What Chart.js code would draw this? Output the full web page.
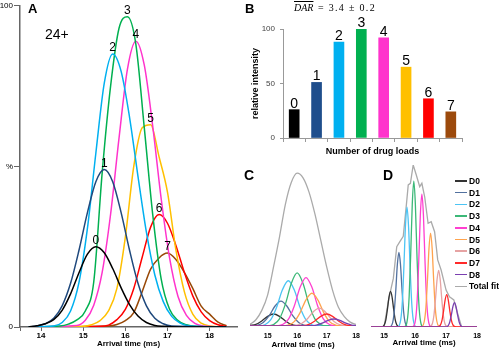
<!DOCTYPE html>
<html>
<head>
<meta charset="utf-8">
<script src="https://cdn.jsdelivr.net/npm/chart.js@4.4.1/dist/chart.umd.min.js"></script>
<style>
  body { margin: 0; background: #fff; }
  #wrap { position: relative; width: 500px; height: 350px; overflow: hidden; font-family: 'Liberation Sans', Arial, sans-serif; }
  canvas, .txt { position: absolute; }
  .txt { white-space: nowrap; color: #000; }
  .letter { font-weight: bold; }
  .lg-line { position: absolute; width: 12px; height: 1.5px; }
  .lg-text { position: absolute; font-size: 8.5px; font-weight: bold; line-height: 10px; }
</style>
</head>
<body>
<div id="wrap">
  <canvas id="chartA" width="245" height="350" style="left:0;top:0"></canvas>
  <canvas id="chartB" width="215" height="160" style="left:250px;top:0"></canvas>
  <canvas id="chartC" width="120" height="190" style="left:246px;top:160px"></canvas>
  <canvas id="chartD" width="120" height="190" style="left:366px;top:160px"></canvas>

  <div class="txt letter" style="left:28px;top:2px;font-size:13px;line-height:13px">A</div>
  <div class="txt" style="left:45px;top:27px;font-size:14px;line-height:14px">24+</div>
  <div class="txt letter" style="left:245px;top:2px;font-size:13px;line-height:13px">B</div>
  <div class="txt" style="left:294px;top:2px;font:italic 10px 'Liberation Serif';line-height:12px"><span style="text-decoration:overline">DAR</span></div>
  <div class="txt" style="left:318px;top:2px;font:10px 'Liberation Serif';line-height:12px;letter-spacing:1.3px">= 3.4 ± 0.2</div>
  <div class="txt letter" style="left:244px;top:168px;font-size:14px;line-height:14px">C</div>
  <div class="txt letter" style="left:383px;top:168px;font-size:14px;line-height:14px">D</div>
  <div id="legendD"></div>
</div>
<script>
// ---- panel A: arrival time distributions, 24+ charge state ----
const aLabels = ['0', '1', '2', '3', '4', '5', '6', '7'];
const aColors = ['#000000', '#1f497d', '#00b0f0', '#00b050', '#ff33cc', '#ffc000', '#ff0000', '#984807'];
const aTicks = [13.5, 14, 15, 16, 17, 18];

const aT0 = [13.7, 13.9, 14.1, 14.3, 14.5, 14.7, 14.9, 15.1, 15.3, 15.5, 15.7, 15.9, 16.1, 16.3, 16.5, 16.7, 16.9, 17.3, 18.4];
const aI0 = [0, 0.4, 1.0, 2.3, 5.2, 10.3, 16.9, 22.7, 25, 23.1, 18.2, 12.2, 7.0, 3.4, 1.4, 0.5, 0.2, 0, 0];
const aT1 = [13.7, 13.9, 14.1, 14.3, 14.5, 14.7, 14.9, 15.1, 15.3, 15.5, 15.7, 15.9, 16.1, 16.3, 16.5, 16.7, 16.9, 17.1, 18.4];
const aI1 = [0, 0.3, 1.0, 2.7, 6.6, 13.6, 23.9, 35.6, 45.2, 49, 45.2, 35.6, 23.9, 13.6, 6.6, 2.7, 1.0, 0.3, 0];
const aT2 = [13.7, 14.3, 14.5, 14.7, 14.9, 15.1, 15.3, 15.5, 15.7, 15.9, 16.1, 16.3, 16.5, 16.7, 16.9, 17.1, 17.3, 17.5, 18.4];
const aI2 = [0, 0.3, 1.4, 5.0, 13.9, 30.7, 54.1, 75.9, 85, 79.6, 65.3, 46.9, 29.5, 16.2, 7.9, 3.3, 1.2, 0.4, 0];
const aT3 = [13.7, 14.45, 14.65, 14.85, 15.05, 15.25, 15.45, 15.65, 15.85, 16.05, 16.25, 16.45, 16.65, 16.85, 17.05, 17.25, 17.45, 17.65, 18.4];
const aI3 = [0, 0.3, 0.9, 2.2, 5, 14, 48, 75, 93, 96.6, 88, 62, 35, 15, 5.5, 2, 0.7, 0.2, 0];
const aT4 = [13.7, 14.85, 15.05, 15.25, 15.45, 15.65, 15.85, 16.05, 16.25, 16.45, 16.65, 16.85, 17.05, 17.25, 17.45, 17.65, 17.85, 18.4];
const aI4 = [0, 0.5, 2.1, 6.8, 17.0, 35.1, 58.8, 80.3, 89, 81.5, 62.5, 40, 21.5, 9.5, 3.6, 1.1, 0.3, 0];
const aT5 = [13.7, 15.0, 15.2, 15.4, 15.6, 15.8, 16.0, 16.2, 16.4, 16.6, 16.8, 17.0, 17.2, 17.4, 17.6, 17.8, 18.0, 18.4];
const aI5 = [0, 0.2, 0.7, 2, 5, 12, 28, 50, 62, 63, 53, 42, 24, 11, 4, 1.2, 0.3, 0];
const aT6 = [13.7, 15.4, 15.6, 15.8, 16.0, 16.2, 16.4, 16.6, 16.8, 17.0, 17.2, 17.4, 17.6, 17.8, 18.0, 18.2, 18.4];
const aI6 = [0, 0.2, 0.6, 2.3, 5.5, 12, 21.7, 31.1, 35, 32.3, 25.4, 17, 9.7, 4.7, 2.0, 0.7, 0.2];
const aT7 = [13.7, 15.6, 15.8, 16.0, 16.2, 16.4, 16.6, 16.8, 17.0, 17.2, 17.4, 17.6, 17.8, 18.0, 18.2, 18.4];
const aI7 = [0, 0.3, 0.8, 2, 4.5, 11, 18, 21.5, 23, 21, 17, 12, 6.5, 4, 1.5, 0.4];

// ---- panel B: relative intensity per drug load ----
const bCats = ['0', '1', '2', '3', '4', '5', '6', '7'];
const bVals = [26, 51, 88, 100, 92, 65, 36, 24];
const bColors = ['#000000', '#1f4e8c', '#00b0f0', '#00b050', '#ff33cc', '#ffc000', '#ff0000', '#9c4a0c'];
const bTicks = [0, 50, 100];

// ---- panels C and D: fitted components ----
const dLabels = ['D0', 'D1', 'D2', 'D3', 'D4', 'D5', 'D6', 'D7', 'D8', 'Total fit'];
const dColors = ['#333333', '#52719f', '#4cc4f4', '#3cb878', '#ff3fd0', '#ffa34d', '#e6a3a3', '#ff2a2a', '#7a3fb0', '#aaaaaa'];
const cdTicks = [15, 16, 17, 18];

const cT0 = [14.4, 14.6, 14.8, 15.0, 15.2, 15.4, 15.6, 15.8, 16.0, 16.2, 18.0];
const cI0 = [0.4, 1.0, 3.2, 6.2, 7.7, 6.2, 3.2, 1.0, 0.2, 0, 0];
const cT1 = [14.4, 14.45, 14.65, 14.85, 15.05, 15.25, 15.45, 15.65, 15.85, 16.05, 16.25, 16.45, 18.0];
const cI1 = [0, 0.06, 0.46, 2.2, 6.6, 12.8, 16, 12.8, 6.6, 2.2, 0.46, 0.06, 0];
const cT2 = [14.4, 14.7, 14.9, 15.1, 15.3, 15.5, 15.7, 15.9, 16.1, 16.3, 16.5, 16.7, 18.0];
const cI2 = [0, 0.1, 0.8, 3.9, 11.9, 23.2, 29, 23.2, 11.9, 3.9, 0.8, 0.1, 0];
const cT3 = [14.4, 15.0, 15.2, 15.4, 15.6, 15.8, 16.0, 16.2, 16.4, 16.6, 16.8, 17.0, 18.0];
const cI3 = [0, 0.14, 1.0, 4.6, 14, 27.2, 34, 27.2, 14, 4.6, 1.0, 0.14, 0];
const cT4 = [14.4, 15.3, 15.5, 15.7, 15.9, 16.1, 16.3, 16.5, 16.7, 16.9, 17.1, 17.3, 18.0];
const cI4 = [0, 0.12, 0.9, 4.2, 12.7, 24.8, 31, 24.8, 12.7, 4.2, 0.9, 0.12, 0];
const cT5 = [14.4, 15.5, 15.7, 15.9, 16.1, 16.3, 16.5, 16.7, 16.9, 17.1, 17.3, 17.5, 18.0];
const cI5 = [0, 0.08, 0.6, 2.8, 8.6, 16.8, 21, 16.8, 8.6, 2.8, 0.6, 0.08, 0];
const cT6 = [14.4, 15.75, 15.95, 16.15, 16.35, 16.55, 16.75, 16.95, 17.15, 17.35, 17.55, 17.75, 18.0];
const cI6 = [0, 0.05, 0.33, 1.6, 4.7, 9.2, 11.5, 9.2, 4.7, 1.6, 0.33, 0.05, 0];
const cT7 = [14.4, 16.0, 16.2, 16.4, 16.6, 16.8, 17.0, 17.2, 17.4, 17.6, 17.8, 18.0];
const cI7 = [0, 0.03, 0.2, 1.0, 3.2, 6.2, 7.7, 6.2, 3.2, 1.0, 0.2, 0.03];
const cT8 = [14.4, 16.25, 16.45, 16.65, 16.85, 17.05, 17.25, 17.45, 17.65, 17.85, 18.0];
const cI8 = [0, 0.02, 0.13, 0.6, 1.8, 3.6, 4.5, 3.6, 1.8, 0.6, 0.2];
const cTfit = [14.4, 14.6, 14.8, 15.0, 15.2, 15.4, 15.6, 15.8, 16.0, 16.2, 16.4, 16.6, 16.8, 17.0, 17.2, 17.4, 17.6, 17.8, 18.0];
const cIfit = [1, 4, 10, 20, 38, 57, 78, 92, 98, 95, 86, 72, 55, 38, 23, 12, 6, 2.5, 1];

const dT0 = [14.58, 14.91, 15.01, 15.06, 15.11, 15.16, 15.21, 15.26, 15.31, 15.36, 15.41, 15.51, 18.0];
const dI0 = [0, 0, 1.4, 4.6, 11, 18.5, 22, 18.5, 11, 4.6, 1.4, 0, 0];
const dT1 = [14.58, 15.18, 15.28, 15.33, 15.38, 15.43, 15.48, 15.53, 15.58, 15.63, 15.68, 15.78, 18.0];
const dI1 = [0, 0.1, 2.9, 9.7, 23, 38.7, 46, 38.7, 23, 9.7, 2.9, 0.1, 0];
const dT2 = [14.58, 15.44, 15.54, 15.59, 15.64, 15.69, 15.74, 15.79, 15.84, 15.89, 15.94, 16.04, 18.0];
const dI2 = [0, 0.1, 4.7, 15.6, 37, 62.2, 74, 62.2, 37, 15.6, 4.7, 0.1, 0];
const dT3 = [14.58, 15.66, 15.76, 15.81, 15.86, 15.91, 15.96, 16.01, 16.06, 16.11, 16.16, 16.26, 18.0];
const dI3 = [0, 0.2, 5.7, 19, 45, 75.7, 90, 75.7, 45, 19, 5.7, 0.2, 0];
const dT4 = [14.58, 15.92, 16.02, 16.07, 16.12, 16.17, 16.22, 16.27, 16.32, 16.37, 16.42, 16.52, 18.0];
const dI4 = [0, 0.2, 5.2, 17.3, 41, 69, 82, 69, 41, 17.3, 5.2, 0.2, 0];
const dT5 = [14.58, 16.2, 16.3, 16.35, 16.4, 16.45, 16.5, 16.55, 16.6, 16.65, 16.7, 16.8, 18.0];
const dI5 = [0, 0.1, 3.7, 12.2, 29, 48.8, 58, 48.8, 29, 12.2, 3.7, 0.1, 0];
const dT6 = [14.58, 16.46, 16.56, 16.61, 16.66, 16.71, 16.76, 16.81, 16.86, 16.91, 16.96, 17.06, 18.0];
const dI6 = [0, 0.1, 2.2, 7.4, 17.5, 29.4, 35, 29.4, 17.5, 7.4, 2.2, 0.1, 0];
const dT7 = [14.58, 16.72, 16.82, 16.87, 16.92, 16.97, 17.02, 17.07, 17.12, 17.17, 17.22, 17.32, 18.0];
const dI7 = [0, 0, 1.3, 4.2, 10, 16.8, 20, 16.8, 10, 4.2, 1.3, 0, 0];
const dT8 = [14.58, 16.97, 17.07, 17.12, 17.17, 17.22, 17.27, 17.32, 17.37, 17.42, 17.47, 17.57, 18.0];
const dI8 = [0, 0, 0.9, 3.2, 7.5, 12.6, 15, 12.6, 7.5, 3.2, 0.9, 0, 0];
const dTfit = [15.0, 15.14, 15.23, 15.3, 15.41, 15.51, 15.62, 15.73, 15.78, 15.85, 15.94, 16.04, 16.15, 16.22, 16.31, 16.42, 16.52, 16.63, 16.73, 16.84, 17.0, 17.11, 17.25, 17.37, 17.5];
const dIfit = [0, 16, 24, 30, 49.6, 52.7, 56, 77.4, 87.7, 88.7, 100, 93.8, 86.6, 88.7, 80.4, 64, 65, 58.8, 41.4, 35.2, 22.8, 18.7, 16.7, 8.5, 0];

const aTimes = [aT0, aT1, aT2, aT3, aT4, aT5, aT6, aT7];
const aInts = [aI0, aI1, aI2, aI3, aI4, aI5, aI6, aI7];
const cTimes = [cT0, cT1, cT2, cT3, cT4, cT5, cT6, cT7, cT8, cTfit];
const cInts = [cI0, cI1, cI2, cI3, cI4, cI5, cI6, cI7, cI8, cIfit];
const dTimes = [dT0, dT1, dT2, dT3, dT4, dT5, dT6, dT7, dT8, dTfit];
const dInts = [dI0, dI1, dI2, dI3, dI4, dI5, dI6, dI7, dI8, dIfit];

Chart.defaults.font.family = "'Liberation Sans', Arial, sans-serif";
Chart.defaults.color = '#000';

function pts(xs, ys) {
  return xs.map((x, i) => ({ x: x, y: ys[i] }));
}
function fixTicks(list) {
  return (scale) => { scale.ticks = list.map(v => ({ value: v })); };
}

// number above the highest point of every curve
const peakLabels = {
  id: 'peakLabels',
  afterDatasetsDraw(chart, args, opts) {
    const ctx = chart.ctx;
    ctx.save();
    ctx.font = opts.font;
    ctx.fillStyle = '#000';
    ctx.textAlign = 'center';
    chart.data.datasets.forEach((ds, i) => {
      const els = chart.getDatasetMeta(i).data;
      let top = els[0];
      els.forEach(p => { if (p.y < top.y) top = p; });
      ctx.fillText(opts.labels[i], top.x, top.y - opts.gap);
    });
    ctx.restore();
  }
};

// number above every bar
const barLabels = {
  id: 'barLabels',
  afterDatasetsDraw(chart, args, opts) {
    const ctx = chart.ctx;
    ctx.save();
    ctx.font = opts.font;
    ctx.fillStyle = '#000';
    ctx.textAlign = 'center';
    chart.getDatasetMeta(0).data.forEach((bar, j) => {
      ctx.fillText(chart.data.labels[j], bar.x, bar.y - opts.gap);
    });
    ctx.restore();
  }
};

new Chart(document.getElementById('chartA'), {
  type: 'line',
  data: {
    datasets: aTimes.map((t, i) => ({
      data: pts(t, aInts[i]),
      borderColor: aColors[i],
      borderWidth: 1.5,
      pointRadius: 0,
      cubicInterpolationMode: 'monotone',
      fill: false
    }))
  },
  options: {
    responsive: false,
    animation: false,
    layout: { padding: { top: 4, right: 8, left: 0, bottom: 0 } },
    plugins: {
      legend: { display: false },
      tooltip: { enabled: false },
      peakLabels: { labels: aLabels, font: "12px 'Liberation Sans'", gap: 3 }
    },
    scales: {
      x: {
        type: 'linear', min: 13.5, max: 18.65,
        afterBuildTicks: fixTicks(aTicks),
        afterFit: (s) => { s.height = 23; },
        grid: { drawOnChartArea: false, tickLength: 4, color: '#666' },
        border: { color: '#666', width: 1.5 },
        ticks: { padding: 0, font: { size: 8, weight: 'bold' }, callback: v => (v === 13.5 ? '' : String(v)) },
        title: { display: true, text: 'Arrival time (ms)', font: { size: 8, weight: 'bold' }, padding: { top: 0, bottom: 1 } }
      },
      y: {
        min: 0, max: 100,
        afterBuildTicks: fixTicks([0, 50, 100]),
        afterFit: (s) => { s.width = 20; },
        grid: { drawOnChartArea: false, tickLength: 6, color: '#666' },
        border: { color: '#666', width: 1.5 },
        ticks: { padding: 1, font: { size: 8 }, callback: v => (v === 50 ? '%' : String(v)) }
      }
    }
  },
  plugins: [peakLabels]
});

new Chart(document.getElementById('chartB'), {
  type: 'bar',
  data: {
    labels: bCats,
    datasets: [{ data: bVals, backgroundColor: bColors, barThickness: 10 }]
  },
  options: {
    responsive: false,
    animation: false,
    layout: { padding: { top: 29, right: 3, left: 0, bottom: 0 } },
    plugins: {
      legend: { display: false },
      tooltip: { enabled: false },
      barLabels: { font: "14px 'Liberation Sans'", gap: 2 }
    },
    scales: {
      x: {
        afterFit: (s) => { s.height = 22; },
        grid: { drawOnChartArea: false, tickLength: 4, color: '#999' },
        border: { color: '#999' },
        ticks: { padding: 0, callback: () => '' },
        title: { display: true, text: 'Number of drug loads', font: { size: 9, weight: 'bold' }, padding: { top: 0, bottom: 3 } }
      },
      y: {
        min: 0, max: 100,
        afterBuildTicks: fixTicks(bTicks),
        afterFit: (s) => { s.width = 33; },
        grid: { drawOnChartArea: false, tickLength: 3, color: '#999' },
        border: { color: '#999' },
        ticks: { padding: 5, font: { size: 8 }, color: '#444' },
        title: { display: true, text: 'relative intensity', font: { size: 9, weight: 'bold' }, padding: 0 }
      }
    }
  },
  plugins: [barLabels]
});

function fitChart(id, times, ints, xMin, pad, axisH, tickPad, titlePad, fitTension) {
  return new Chart(document.getElementById(id), {
    type: 'line',
    data: {
      datasets: times.map((t, i) => {
        const isFit = i === times.length - 1;
        return {
          data: pts(t, ints[i]),
          borderColor: dColors[i],
          borderWidth: 1.3,
          pointRadius: 0,
          fill: false,
          order: isFit ? 20 : 10 - i,
          tension: isFit ? fitTension : 0.4,
          cubicInterpolationMode: isFit && fitTension === 0 ? 'default' : 'monotone'
        };
      })
    },
    options: {
      responsive: false,
      animation: false,
      layout: { padding: pad },
      plugins: { legend: { display: false }, tooltip: { enabled: false } },
      scales: {
        x: {
          type: 'linear', min: xMin, max: 18,
          afterBuildTicks: fixTicks(cdTicks),
          afterFit: (s) => { s.height = axisH; },
          grid: { display: false, drawTicks: false },
          border: { display: false },
          ticks: { padding: tickPad, font: { size: 7, weight: 'bold' } },
          title: { display: true, text: 'Arrival time (ms)', font: { size: 8, weight: 'bold' }, padding: { top: 0, bottom: titlePad } }
        },
        y: { display: false, min: 0, max: 100 }
      }
    }
  });
}

fitChart('chartC', cTimes, cInts, 14.4, { left: 4, right: 5, top: 10, bottom: 0 }, 24, 6, 0, 0.4);
fitChart('chartD', dTimes, dInts, 14.58, { left: 5, right: 8, top: 5, bottom: 0 }, 23, 5, 2, 0);

// legend of panel D
const legendBox = document.getElementById('legendD');
dLabels.forEach((lab, i) => {
  const y = 181 + i * 11.7;
  const line = document.createElement('div');
  line.className = 'lg-line';
  line.style.left = '455px';
  line.style.top = (y - 0.75) + 'px';
  line.style.background = dColors[i];
  const txt = document.createElement('div');
  txt.className = 'lg-text';
  txt.style.left = '469px';
  txt.style.top = (y - 5) + 'px';
  txt.textContent = lab;
  legendBox.appendChild(line);
  legendBox.appendChild(txt);
});
</script>
</body>
</html>
